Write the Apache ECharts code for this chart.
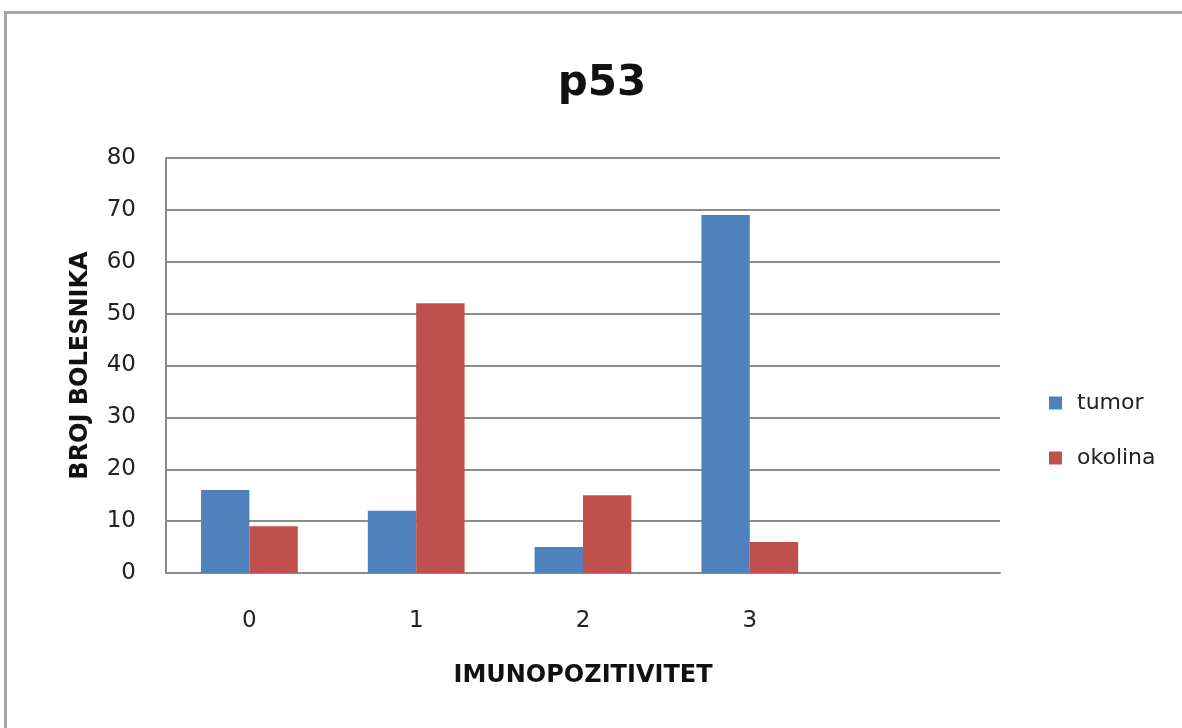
<!DOCTYPE html>
<html>
<head>
<meta charset="utf-8">
<style>
  html, body { margin: 0; padding: 0; background: #fff; }
  #frame { position: absolute; left: 4px; top: 11px; width: 1200px; height: 740px;
           border: 3px solid #a6a6a6; border-right: none; border-bottom: none; box-sizing: border-box; }
  #chart { position: absolute; left: 0; top: 0; width: 1182px; height: 728px; }
</style>
<script src="https://cdn.jsdelivr.net/npm/echarts@6/dist/echarts.min.js"></script>
</head>
<body>
<div id="frame"></div>
<div id="chart"></div>
<script>
// Immunopositivity score categories (trailing empty slot keeps the plot width)
const categories = ['0', '1', '2', '3', ''];
const tumor = [16, 12, 5, 69, '-'];
const okolina = [9, 52, 15, 6, '-'];
const yTicks = { min: 0, max: 80, interval: 10 };

const font = '"DejaVu Sans", Verdana, sans-serif';
const chart = echarts.init(document.getElementById('chart'));
chart.setOption({
  animation: false,
  title: {
    text: 'p53', left: 597, top: 58, textAlign: 'center',
    textStyle: { fontFamily: font, fontSize: 42, fontWeight: 'bold', color: '#111' }
  },
  legend: {
    orient: 'vertical', left: 1044, top: 387, itemGap: 33,
    itemWidth: 13, itemHeight: 13, icon: 'rect',
    textStyle: { fontFamily: font, fontSize: 22, color: '#222', padding: [0, 0, 0, 10] },
    data: ['tumor', 'okolina']
  },
  grid: { left: 166, right: 182, top: 158, bottom: 155 },
  xAxis: {
    type: 'category', data: categories,
    name: 'IMUNOPOZITIVITET', nameLocation: 'middle', nameGap: 91,
    nameTextStyle: { fontFamily: font, fontSize: 24, fontWeight: 'bold', color: '#111' },
    axisLine: { lineStyle: { color: '#8c8c8c', width: 2 } },
    axisTick: { show: false },
    axisLabel: { fontFamily: font, fontSize: 23, color: '#222', margin: 37 }
  },
  yAxis: {
    type: 'value', min: yTicks.min, max: yTicks.max, interval: yTicks.interval,
    name: 'BROJ BOLESNIKA', nameLocation: 'middle', nameGap: 73, nameRotate: 90,
    nameTextStyle: { fontFamily: font, fontSize: 24, fontWeight: 'bold', color: '#111' },
    axisLine: { show: true, lineStyle: { color: '#8c8c8c', width: 2 } },
    axisTick: { show: false },
    splitLine: { lineStyle: { color: '#8c8c8c', width: 2 } },
    axisLabel: { fontFamily: font, fontSize: 23, color: '#222', margin: 30 }
  },
  series: [
    { name: 'tumor', type: 'bar', data: tumor, barGap: '0%', barCategoryGap: '42%',
      itemStyle: { color: '#4f81bd' } },
    { name: 'okolina', type: 'bar', data: okolina, barGap: '0%', barCategoryGap: '42%',
      itemStyle: { color: '#c0504d' } }
  ]
});
</script>
</body>
</html>
